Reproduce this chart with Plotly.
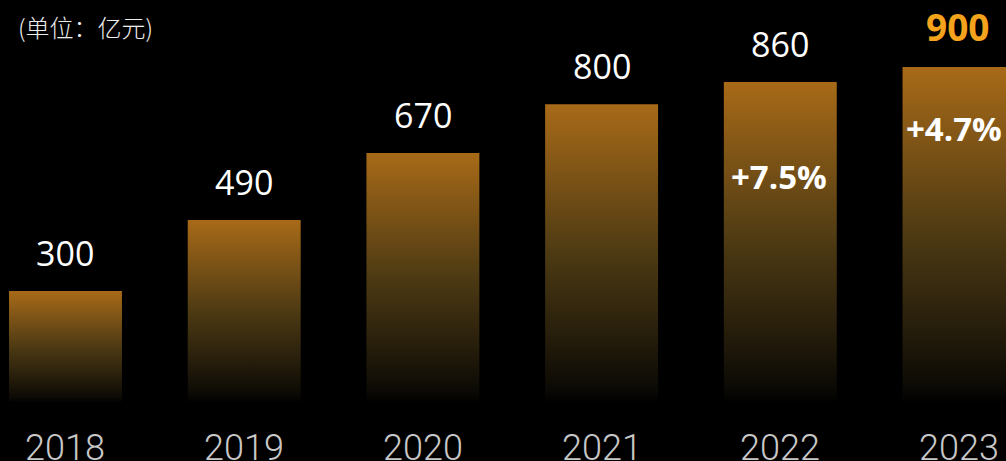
import plotly.graph_objects as go

# Annual market size (unit: 100 million yuan)
years = ["2018", "2019", "2020", "2021", "2022", "2023"]
revenue = [300, 490, 670, 800, 860, 900]
unit_label = "(单位：亿元)"

# Year-over-year growth shown inside the last two bars
growth_years = ["2022", "2023"]

BAR_HALF = 0.316
BAR_SCALE = [
    [0.0, "#000000"],
    [0.05, "#0c0a05"],
    [0.25, "#2a200c"],
    [0.5, "#4d3a13"],
    [0.75, "#7a5216"],
    [1.0, "#a86a18"],
]
NUM_FONT = "Open Sans, Noto Sans, sans-serif"
YEAR_FONT = "Roboto, Open Sans, sans-serif"
CJK_FONT = "Noto Sans CJK SC, Noto Sans, sans-serif"

fig = go.Figure()

# Each bar is a filled rectangle with a vertical gradient (dark at the base)
for i, (yr, v) in enumerate(zip(years, revenue)):
    x0, x1 = i - BAR_HALF, i + BAR_HALF
    fig.add_trace(go.Scatter(
        x=[x0, x1, x1, x0, x0],
        y=[0, 0, v, v, 0],
        mode="lines",
        line=dict(width=0),
        fill="toself",
        fillgradient=dict(type="vertical", colorscale=BAR_SCALE, start=0, stop=v),
        hoverinfo="skip",
        showlegend=False,
    ))

annotations = []

# Value labels above bars; the latest year is highlighted
for i, (yr, v) in enumerate(zip(years, revenue)):
    last = i == len(years) - 1
    annotations.append(dict(
        x=i, y=v, xref="x", yref="y",
        text=f"<b>{v}</b>" if last else str(v),
        showarrow=False, yanchor="middle", yshift=41 if last else 38,
        xshift=-2 if last else 0,
        font=dict(family=NUM_FONT, size=37 if last else 34,
                  color="#f5a31c" if last else "#ffffff"),
    ))

# Year labels under the bars
for i, yr in enumerate(years):
    annotations.append(dict(
        x=i, y=-120, xref="x", yref="y", text=yr, showarrow=False,
        yanchor="middle",
        font=dict(family=YEAR_FONT, size=36, color="#c8c8c8", weight=300),
    ))

# Growth rates inside the bars
growth_shift = {"2022": (-1, -95), "2023": (-5, -61)}
for yr in growth_years:
    i = years.index(yr)
    pct = (revenue[i] - revenue[i - 1]) / revenue[i - 1] * 100
    dx, dy = growth_shift[yr]
    annotations.append(dict(
        x=i, y=revenue[i], xref="x", yref="y",
        text=f"<b>+{pct:.1f}%</b>", showarrow=False, yanchor="middle",
        xshift=dx, yshift=dy,
        font=dict(family=NUM_FONT, size=33, color="#ffffff"),
    ))

# Unit note in the top-left corner
annotations.append(dict(
    x=16 / 1006, y=1 - 26 / 461, xref="paper", yref="paper",
    text=unit_label, showarrow=False, xanchor="left", yanchor="middle",
    font=dict(family=CJK_FONT, size=24, color="#eeeeee", weight=300),
))

fig.update_layout(
    width=1006, height=461,
    margin=dict(l=0, r=0, t=0, b=0),
    paper_bgcolor="#000000", plot_bgcolor="#000000",
    xaxis=dict(range=[-0.3665, 5.263], visible=False, fixedrange=True),
    yaxis=dict(range=[-155.4, 1079.6], visible=False, fixedrange=True),
    annotations=annotations,
    showlegend=False,
)

fig.write_html("out.html", config={"displayModeBar": False})
